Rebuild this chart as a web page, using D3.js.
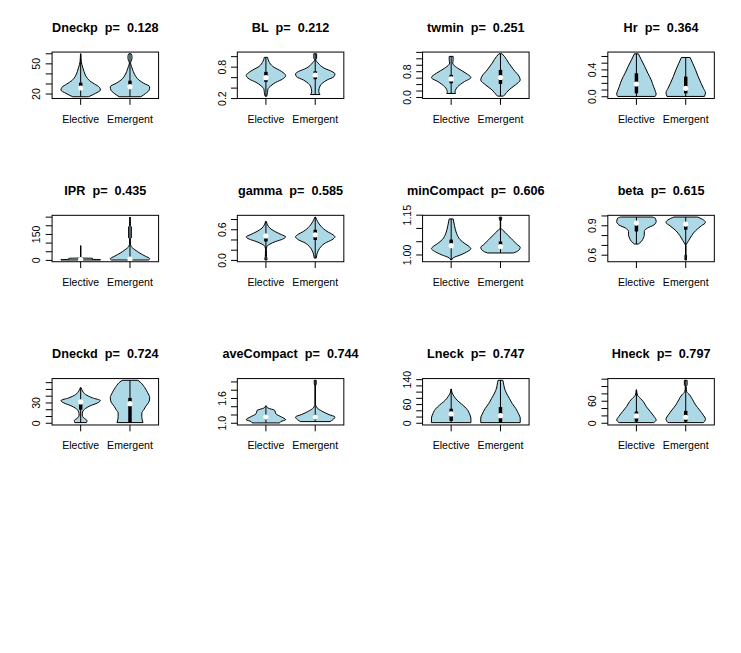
<!DOCTYPE html>
<html>
<head>
<meta charset="utf-8">
<script src="https://cdn.jsdelivr.net/npm/d3@7"></script>
<style>
  body { margin: 0; background: #fff; }
  svg { display: block; font-family: "Liberation Sans", Arial, sans-serif; }
</style>
</head>
<body>
<div id="chart"></div>
<script>
const groups = ["Elective", "Emergent"];
const variables = ["Dneckp", "BL", "twmin", "Hr", "IPR", "gamma", "minCompact", "beta",
  "Dneckd", "aveCompact", "Lneck", "Hneck"];
const pValues = ["0.128", "0.212", "0.251", "0.364", "0.435", "0.585", "0.606", "0.615",
  "0.724", "0.744", "0.747", "0.797"];

// data range (min, max) of each variable
const yRanges = [[17.3, 60], [0.235, 1.055], [0.022, 1.356], [0, 0.64],
  [2.2, 250.6], [0.008, 0.849], [0.981, 1.143], [0.551, 0.989],
  [0, 63.5], [1.0, 2.04], [0, 138], [0, 117]];

const yTicks = [
  [20, 30, 40, 50, 60], [0.2, 0.4, 0.6, 0.8, 1.0], [0, 0.2, 0.4, 0.6, 0.8, 1.0, 1.2, 1.4],
  [0, 0.1, 0.2, 0.3, 0.4, 0.5, 0.6], [0, 50, 100, 150, 200, 250], [0, 0.2, 0.4, 0.6, 0.8],
  [1.00, 1.05, 1.10, 1.15], [0.6, 0.7, 0.8, 0.9, 1.0], [0, 10, 20, 30, 40, 50, 60],
  [1.0, 1.2, 1.4, 1.6, 1.8, 2.0], [0, 20, 40, 60, 80, 100, 120, 140], [0, 20, 40, 60, 80, 100, 120]];
// labels R kept (others dropped for overlap)
const yTickLabels = [
  ["20", "", "", "50", ""], ["0.2", "", "", "0.8", ""], ["0.0", "", "", "", "0.8", "", "", ""],
  ["0.0", "", "", "", "0.4", "", ""], ["0", "", "", "150", "", ""], ["0.0", "", "", "0.6", ""],
  ["1.00", "", "", "1.15"], ["0.6", "", "", "0.9", ""], ["0", "", "", "30", "", "", ""],
  ["1.0", "", "", "1.6", "", ""], ["0", "", "", "60", "", "", "", "140"], ["0", "", "", "60", "", "", ""]];

// violin outlines: [value, relative half width]
const electiveShapes = [
  [[17.3, 0.4], [20.7, 0.75], [24, 1.0], [26.7, 0.95], [30, 0.7], [33.3, 0.45], [37.3, 0.28], [42.3, 0.17], [46.7, 0.1], [52.3, 0.03], [60, 0.01]],
  [[0.245, 0.04], [0.316, 0.08], [0.38, 0.1], [0.445, 0.25], [0.51, 0.5], [0.574, 0.85], [0.639, 1.0], [0.716, 0.8], [0.813, 0.35], [0.91, 0.15], [0.987, 0.08]],
  [[0.125, 0.22], [0.178, 0.2], [0.334, 0.33], [0.491, 0.67], [0.617, 1.0], [0.752, 0.75], [0.909, 0.33], [1.014, 0.12], [1.066, 0.08], [1.17, 0.1], [1.275, 0.1]],
  [[0.005, 0.95], [0.04, 1.0], [0.075, 0.97], [0.15, 0.87], [0.25, 0.75], [0.35, 0.58], [0.45, 0.42], [0.55, 0.25], [0.64, 0.1]],
  [[2.2, 1.0], [4.5, 1.0], [6, 0.6], [12, 0.6], [14, 0.02], [20, 0.01], [85, 0.005]],
  [[0.008, 0.05], [0.046, 0.05], [0.078, 0.03], [0.208, 0.02], [0.274, 0.05], [0.319, 0.2], [0.371, 0.5], [0.417, 0.85], [0.463, 1.0], [0.502, 0.8], [0.567, 0.45], [0.632, 0.2], [0.697, 0.08], [0.762, 0.02]],
  [[0.981, 0.02], [0.989, 0.1], [1.001, 0.5], [1.014, 0.85], [1.024, 1.0], [1.0325, 0.9], [1.0425, 0.7], [1.058, 0.45], [1.08, 0.28], [1.11, 0.17], [1.136, 0.1]],
  [[0.714, 0.1], [0.74, 0.25], [0.775, 0.35], [0.808, 0.4], [0.842, 0.4], [0.876, 0.55], [0.91, 0.9], [0.944, 1.0], [0.978, 0.95], [0.989, 0.8]],
  [[1, 0.3], [4, 0.32], [8, 0.15], [12, 0.08], [17, 0.1], [22, 0.25], [26, 0.5], [30, 0.85], [33.5, 1.0], [37.5, 0.6], [42.5, 0.25], [47.5, 0.1], [52.5, 0.02]],
  [[1.008, 0.7], [1.04, 0.75], [1.088, 1.0], [1.15, 0.8], [1.23, 0.5], [1.31, 0.45], [1.37, 0.1], [1.42, 0.02]],
  [[2, 1.0], [16.7, 1.0], [30, 0.93], [41, 0.85], [52, 0.7], [63, 0.5], [74, 0.3], [86, 0.15], [97, 0.05], [110, 0.01]],
  [[1.8, 0.88], [9, 1.0], [18, 0.9], [32, 0.7], [45.5, 0.5], [59, 0.35], [68, 0.2], [77, 0.05], [91, 0.01]]
];
const emergentShapes = [
  [[17.3, 0.55], [20.7, 0.8], [24, 0.97], [27.3, 1.0], [30.7, 0.7], [34, 0.45], [37.3, 0.3], [42.3, 0.17], [47.3, 0.08], [50.7, 0.03], [52.3, 0.05], [55, 0.1], [58, 0.1], [60, 0.06]],
  [[0.277, 0.24], [0.329, 0.18], [0.394, 0.2], [0.49, 0.35], [0.555, 0.6], [0.619, 0.95], [0.671, 1.0], [0.716, 0.85], [0.781, 0.45], [0.877, 0.15], [0.942, 0.03], [0.97, 0.07], [1.055, 0.07]],
  [[0.042, 0.15], [0.073, 0.2], [0.23, 0.42], [0.387, 0.75], [0.543, 1.0], [0.648, 0.95], [0.857, 0.67], [1.066, 0.42], [1.275, 0.2], [1.356, 0.08]],
  [[0.005, 0.95], [0.06, 1.0], [0.125, 0.9], [0.2, 0.78], [0.3, 0.63], [0.4, 0.5], [0.5, 0.35], [0.585, 0.22]],
  [[2.2, 0.95], [9.6, 1.0], [23, 0.8], [42, 0.5], [61.5, 0.25], [80.8, 0.06], [100, 0.02], [125, 0.02], [130, 0.07], [195, 0.07], [200, 0.02], [250.6, 0.005]],
  [[0.046, 0.05], [0.111, 0.08], [0.189, 0.15], [0.274, 0.3], [0.339, 0.5], [0.404, 0.85], [0.463, 1.0], [0.502, 0.9], [0.567, 0.6], [0.664, 0.3], [0.762, 0.12], [0.847, 0.02]],
  [[1.0075, 0.66], [1.016, 0.9], [1.029, 1.0], [1.039, 0.85], [1.0575, 0.6], [1.076, 0.35], [1.095, 0.1], [1.101, 0.01], [1.126, 0.01], [1.135, 0.06], [1.1425, 0.06]],
  [[0.551, 0.04], [0.6, 0.04], [0.61, 0.01], [0.7, 0.01], [0.71, 0.03], [0.75, 0.15], [0.8, 0.3], [0.85, 0.5], [0.9, 0.8], [0.934, 1.0], [0.96, 0.9], [0.989, 0.6]],
  [[1, 0.66], [5, 0.62], [10, 0.6], [15, 0.6], [20, 0.7], [25, 0.8], [31, 0.95], [37.5, 1.0], [45, 0.9], [52.5, 0.75], [60, 0.55], [63.5, 0.4]],
  [[1.04, 0.75], [1.088, 0.9], [1.152, 1.0], [1.21, 0.7], [1.29, 0.35], [1.37, 0.1], [1.41, 0.05], [1.45, 0.01], [1.9, 0.01], [1.95, 0.05], [2.04, 0.05]],
  [[2, 1.0], [16.7, 1.0], [30, 0.92], [47, 0.78], [63, 0.6], [80, 0.45], [97, 0.3], [113, 0.2], [130, 0.15], [138, 0.12]],
  [[1.8, 0.9], [11, 1.0], [23, 0.88], [36, 0.7], [50, 0.5], [64, 0.35], [77, 0.2], [86, 0.05], [100, 0.02], [104.5, 0.07], [117, 0.07]]
];

// [whisker low, q1, median, q3, whisker high]
const electiveStats = [
  [17.3, 24, 26, 31.3, 60], [0.245, 0.52, 0.6, 0.71, 0.987], [0.125, 0.44, 0.575, 0.70, 1.275],
  [0.005, 0.05, 0.19, 0.35, 0.64], [2.2, 2.5, 4, 6, 85], [0.008, 0.37, 0.48, 0.52, 0.762],
  [0.981, 1.03, 1.035, 1.058, 1.136], [0.714, 0.842, 0.927, 0.93, 0.989], [1, 20, 31.5, 31, 52.5],
  [1.008, 1.09, 1.15, 1.2, 1.42], [2, 7.8, 30, 46.7, 110], [1.8, 4.5, 20, 32, 91]
];
const emergentStats = [
  [17.3, 25.3, 27.3, 33.3, 60], [0.277, 0.57, 0.65, 0.72, 1.055], [0.042, 0.418, 0.62, 0.857, 1.356],
  [0.005, 0.05, 0.125, 0.3, 0.585], [2.2, 3, 8, 15, 250.6], [0.046, 0.40, 0.50, 0.60, 0.849],
  [1.0075, 1.03, 1.032, 1.051, 1.143], [0.551, 0.86, 0.917, 0.92, 0.989], [1, 1, 29, 37.5, 63.5],
  [1.04, 1.09, 1.152, 1.21, 2.04], [2, 2, 24.4, 52, 138], [1.8, 4.5, 16.4, 33.6, 117]
];

const width = 741, height = 653;
const nCols = 4, nRows = 4;
const cellW = width / nCols, cellH = height / nRows;
const lineH = 12.7;
const mar = { bottom: 5.1 * lineH, left: 4.1 * lineH, top: 4.1 * lineH, right: 2.1 * lineH };
const plotW = cellW - mar.left - mar.right;
const plotH = cellH - mar.top - mar.bottom;
const tickLen = 0.5 * lineH;

const svg = d3.select("#chart").append("svg")
  .attr("width", width)
  .attr("height", height);

svg.append("rect").attr("width", width).attr("height", height).attr("fill", "white");

variables.forEach((name, i) => {
  const col = i % nCols, row = Math.floor(i / nCols);
  const left = col * cellW + mar.left;
  const top = row * cellH + mar.top;

  const [lo, hi] = yRanges[i];
  const pad = (hi - lo) * 0.04;
  const y = d3.scaleLinear().domain([lo - pad, hi + pad]).range([top + plotH, top]);
  const x = d3.scaleLinear().domain([0.42, 2.58]).range([left, left + plotW]);

  const g = svg.append("g");

  // violins
  [electiveShapes[i], emergentShapes[i]].forEach((shape, k) => {
    const c = k + 1;
    const area = d3.area()
      .y(d => y(d[0]))
      .x0(d => x(c - d[1] * 0.4))
      .x1(d => x(c + d[1] * 0.4))
      .curve(d3.curveMonotoneY);
    g.append("path")
      .datum(shape)
      .attr("d", area)
      .attr("fill", "lightblue")
      .attr("stroke", "black")
      .attr("stroke-width", 1);
  });

  // whiskers, boxes, medians
  [electiveStats[i], emergentStats[i]].forEach((s, k) => {
    const c = k + 1;
    g.append("line")
      .attr("x1", x(c)).attr("x2", x(c))
      .attr("y1", y(s[0])).attr("y2", y(s[4]))
      .attr("stroke", "black").attr("stroke-width", 1);
    const yq = [y(s[1]), y(s[3])];
    g.append("rect")
      .attr("x", x(c - 0.035))
      .attr("width", x(c + 0.035) - x(c - 0.035))
      .attr("y", d3.min(yq))
      .attr("height", Math.max(0.5, Math.abs(yq[0] - yq[1])))
      .attr("fill", "black");
    g.append("circle")
      .attr("cx", x(c)).attr("cy", y(s[2]))
      .attr("r", 2.6)
      .attr("fill", "white");
  });

  // plot box
  g.append("rect")
    .attr("x", left).attr("y", top)
    .attr("width", plotW).attr("height", plotH)
    .attr("fill", "none")
    .attr("stroke", "black")
    .attr("stroke-width", 1);

  // y axis ticks + rotated labels
  yTicks[i].forEach((t, j) => {
    g.append("line")
      .attr("x1", left).attr("x2", left - tickLen)
      .attr("y1", y(t)).attr("y2", y(t))
      .attr("stroke", "black");
    if (yTickLabels[i][j]) {
      g.append("text")
        .attr("transform", `translate(${left - lineH + 1},${y(t)}) rotate(-90)`)
        .attr("text-anchor", "middle")
        .attr("font-size", "10.56px")
        .text(yTickLabels[i][j]);
    }
  });

  // x axis ticks + group labels
  groups.forEach((grp, k) => {
    g.append("line")
      .attr("x1", x(k + 1)).attr("x2", x(k + 1))
      .attr("y1", top + plotH).attr("y2", top + plotH + tickLen)
      .attr("stroke", "black");
    g.append("text")
      .attr("x", x(k + 1))
      .attr("y", top + plotH + 24.5)
      .attr("text-anchor", "middle")
      .attr("font-size", "10.56px")
      .text(grp);
  });

  // title
  g.append("text")
    .attr("x", left + plotW / 2)
    .attr("y", top - 20.5)
    .attr("text-anchor", "middle")
    .attr("font-size", "12.67px")
    .attr("font-weight", "bold")
    .style("white-space", "pre")
    .text(`${name}  p=  ${pValues[i]}`);
});
</script>
</body>
</html>
